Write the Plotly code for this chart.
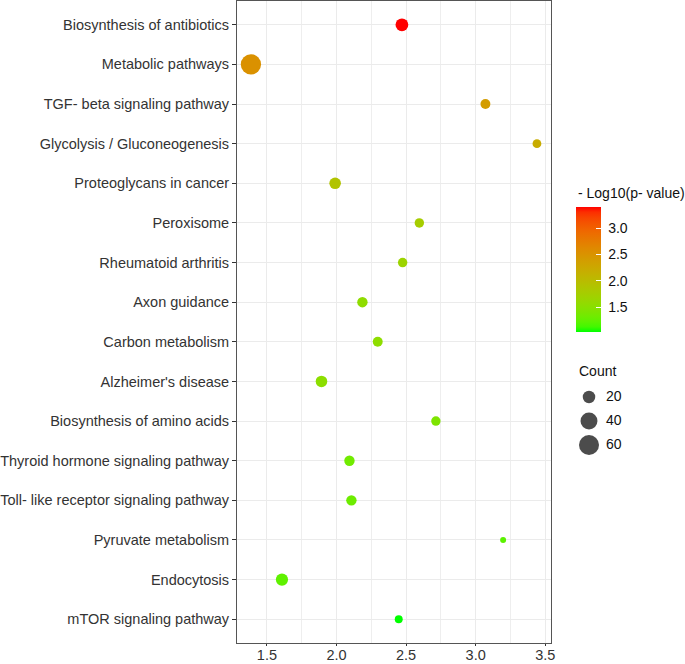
import plotly.graph_objects as go

# ---------------- data ----------------
pathways = [
    "Biosynthesis of antibiotics",
    "Metabolic pathways",
    "TGF- beta signaling pathway",
    "Glycolysis / Gluconeogenesis",
    "Proteoglycans in cancer",
    "Peroxisome",
    "Rheumatoid arthritis",
    "Axon guidance",
    "Carbon metabolism",
    "Alzheimer's disease",
    "Biosynthesis of amino acids",
    "Thyroid hormone signaling pathway",
    "Toll- like receptor signaling pathway",
    "Pyruvate metabolism",
    "Endocytosis",
    "mTOR signaling pathway",
]
rich_factor = [2.47, 1.385, 3.07, 3.44, 1.99, 2.595, 2.475, 2.186, 2.296, 1.892,
               2.714, 2.093, 2.107, 3.197, 1.608, 2.447]
neg_log10_p = [3.40, 2.52, 2.40, 2.20, 1.90, 1.76, 1.66, 1.55, 1.54, 1.52,
               1.42, 1.33, 1.31, 1.22, 1.24, 1.03]
counts = [21, 62, 13, 11, 17, 12, 12, 14, 13, 17, 12, 14, 14, 9, 19, 10]

x_ticks = [1.5, 2.0, 2.5, 3.0, 3.5]
x_ticktext = ["1.5", "2.0", "2.5", "3.0", "3.5"]
cbar_ticks = [1.5, 2.0, 2.5, 3.0]
cbar_ticktext = ["1.5", "2.0", "2.5", "3.0"]
size_breaks = [20, 40, 60]

# ---------------- styling helpers ----------------
def _lin(c):
    c = c / 255.0
    return c / 12.92 if c <= 0.04045 else ((c + 0.055) / 1.055) ** 2.4

def _gam(c):
    c = max(0.0, min(1.0, c))
    v = 12.92 * c if c <= 0.0031308 else 1.055 * c ** (1 / 2.4) - 0.055
    return int(round(max(0, min(1, v)) * 255))

WX, WY, WZ = 0.95047, 1.0, 1.08883

def rgb_to_lab(r, g, b):
    R, G, B = _lin(r), _lin(g), _lin(b)
    X = 0.4124 * R + 0.3576 * G + 0.1805 * B
    Y = 0.2126 * R + 0.7152 * G + 0.0722 * B
    Z = 0.0193 * R + 0.1192 * G + 0.9505 * B
    def f(t):
        return t ** (1 / 3) if t > 0.008856 else 7.787 * t + 16 / 116
    fx, fy, fz = f(X / WX), f(Y / WY), f(Z / WZ)
    return 116 * fy - 16, 500 * (fx - fy), 200 * (fy - fz)

def lab_to_rgb(L, a, b):
    fy = (L + 16) / 116
    fx = fy + a / 500
    fz = fy - b / 200
    def fi(t):
        return t ** 3 if t ** 3 > 0.008856 else (t - 16 / 116) / 7.787
    X, Y, Z = WX * fi(fx), WY * fi(fy), WZ * fi(fz)
    R = 3.2406 * X - 1.5372 * Y - 0.4986 * Z
    G = -0.9689 * X + 1.8758 * Y + 0.0415 * Z
    B = 0.0557 * X - 0.2040 * Y + 1.0570 * Z
    return "rgb(%d,%d,%d)" % (_gam(R), _gam(G), _gam(B))

lab_lo = rgb_to_lab(0, 255, 0)
lab_hi = rgb_to_lab(255, 0, 0)
N = 24
colorscale = []
for i in range(N + 1):
    t = i / N
    lab = [lab_lo[k] + (lab_hi[k] - lab_lo[k]) * t for k in range(3)]
    colorscale.append([t, lab_to_rgb(*lab)])

D_MIN, D_MAX = 6.0, 20.3
c_lo, c_hi = min(counts), max(counts)

def diam(c):
    frac = max(0.0, (c - c_lo) / (c_hi - c_lo))
    return D_MIN + (D_MAX - D_MIN) * frac ** 0.5

FONT = "Liberation Sans, Arial, sans-serif"
AX_COL = "#333333"
NB = "\u00a0"

# layout geometry (pixels)
W, H = 685, 664
ML, MR, MT, MB = 237, 0, 1, 21
PW, PH = W - ML - MR, H - MT - MB
def px_x(p):
    return (p - ML) / PW
def px_y(p):
    return (H - MB - p) / PH

# colorbar geometry
CB_LEFT, CB_TOP, CB_LEN, CB_THICK = 576, 207, 125, 25
p_lo, p_hi = min(neg_log10_p), max(neg_log10_p)

fig = go.Figure()

fig.add_trace(go.Scatter(
    x=rich_factor, y=pathways, mode="markers",
    marker=dict(
        size=[diam(c) for c in counts], sizemode="diameter",
        color=neg_log10_p, colorscale=colorscale,
        cmin=p_lo, cmax=p_hi,
        line=dict(width=0), opacity=1,
        colorbar=dict(
            x=px_x(CB_LEFT), xanchor="left", xpad=0,
            y=px_y(CB_TOP + CB_LEN / 2), yanchor="middle", ypad=0,
            lenmode="pixels", len=CB_LEN, thickness=CB_THICK,
            outlinewidth=0,
            tickvals=cbar_ticks, ticktext=[NB + t for t in cbar_ticktext],
            ticks="inside", ticklen=5, tickcolor="white", tickwidth=1,
            tickfont=dict(family=FONT, size=14, color="#111"),
        ),
    ),
    showlegend=False, hoverinfo="x+y",
))

# Count (size) legend drawn on auxiliary axes
fig.add_trace(go.Scatter(
    x=[589] * len(size_breaks), y=size_breaks, mode="markers",
    marker=dict(size=[diam(c) for c in size_breaks], sizemode="diameter",
                color="black", line=dict(width=0)),
    xaxis="x2", yaxis="y2", showlegend=False, hoverinfo="skip",
))
fig.add_trace(go.Scatter(
    x=[606] * len(size_breaks), y=size_breaks, mode="text",
    text=[str(s) for s in size_breaks], textposition="middle right",
    textfont=dict(family=FONT, size=14, color="#111"),
    xaxis="x2", yaxis="y2", showlegend=False, hoverinfo="skip",
))

# white tick marks on the left edge of the colour bar (ggplot style)
shapes = []
for v in cbar_ticks:
    yy = CB_TOP + CB_LEN * (p_hi - v) / (p_hi - p_lo)
    shapes.append(dict(type="line", xref="paper", yref="paper",
                       x0=px_x(CB_LEFT), x1=px_x(CB_LEFT + 5),
                       y0=px_y(yy), y1=px_y(yy),
                       line=dict(color="white", width=1)))

fig.update_layout(
    width=W, height=H,
    margin=dict(l=ML, r=MR, t=MT, b=MB, pad=0, autoexpand=False),
    paper_bgcolor="white", plot_bgcolor="white",
    font=dict(family=FONT, size=14.5, color=AX_COL),
    xaxis=dict(
        domain=[0, (551 - ML) / PW], range=[1.285, 3.541],
        tickvals=x_ticks, ticktext=x_ticktext, automargin=False,
        showgrid=True, gridcolor="#EBEBEB", gridwidth=1.3,
        minor=dict(tickvals=[1.75, 2.25, 2.75, 3.25], showgrid=True,
                   gridcolor="#EEEEEE", gridwidth=0.7),
        zeroline=False, showline=True, mirror=True,
        linecolor="#555555", linewidth=1,
        ticks="outside", ticklen=2, tickcolor=AX_COL,
        ticklabelstandoff=-3,
        tickfont=dict(family=FONT, size=14.5, color=AX_COL),
    ),
    yaxis=dict(
        type="category", categoryorder="array", categoryarray=pathways,
        range=[len(pathways) - 0.4, -0.6], automargin=False,
        showgrid=True, gridcolor="#EBEBEB", gridwidth=1.3,
        zeroline=False, showline=True, mirror=True,
        linecolor="#555555", linewidth=1,
        ticks="outside", ticklen=4, tickcolor=AX_COL,
        tickfont=dict(family=FONT, size=14.5, color=AX_COL),
    ),
    xaxis2=dict(domain=[px_x(560), 1], range=[560, 685], visible=False,
                anchor="y2", fixedrange=True, automargin=False),
    yaxis2=dict(domain=[px_y(460), px_y(380)], range=[72.5, 5.833],
                visible=False, anchor="x2", fixedrange=True, automargin=False),
    shapes=shapes,
    annotations=[
        dict(text="- Log10(p- value)", xref="paper", yref="paper",
             x=px_x(CB_LEFT), y=px_y(193.3), xanchor="left", yanchor="middle",
             showarrow=False, font=dict(family=FONT, size=14, color="#111")),
        dict(text="Count", xref="paper", yref="paper",
             x=px_x(577), y=px_y(371.5), xanchor="left", yanchor="middle",
             showarrow=False, font=dict(family=FONT, size=14, color="#111")),
    ],
)

fig.write_html("out.html",
               config={"displayModeBar": False},
               post_script="document.body.style.margin='0px';")
